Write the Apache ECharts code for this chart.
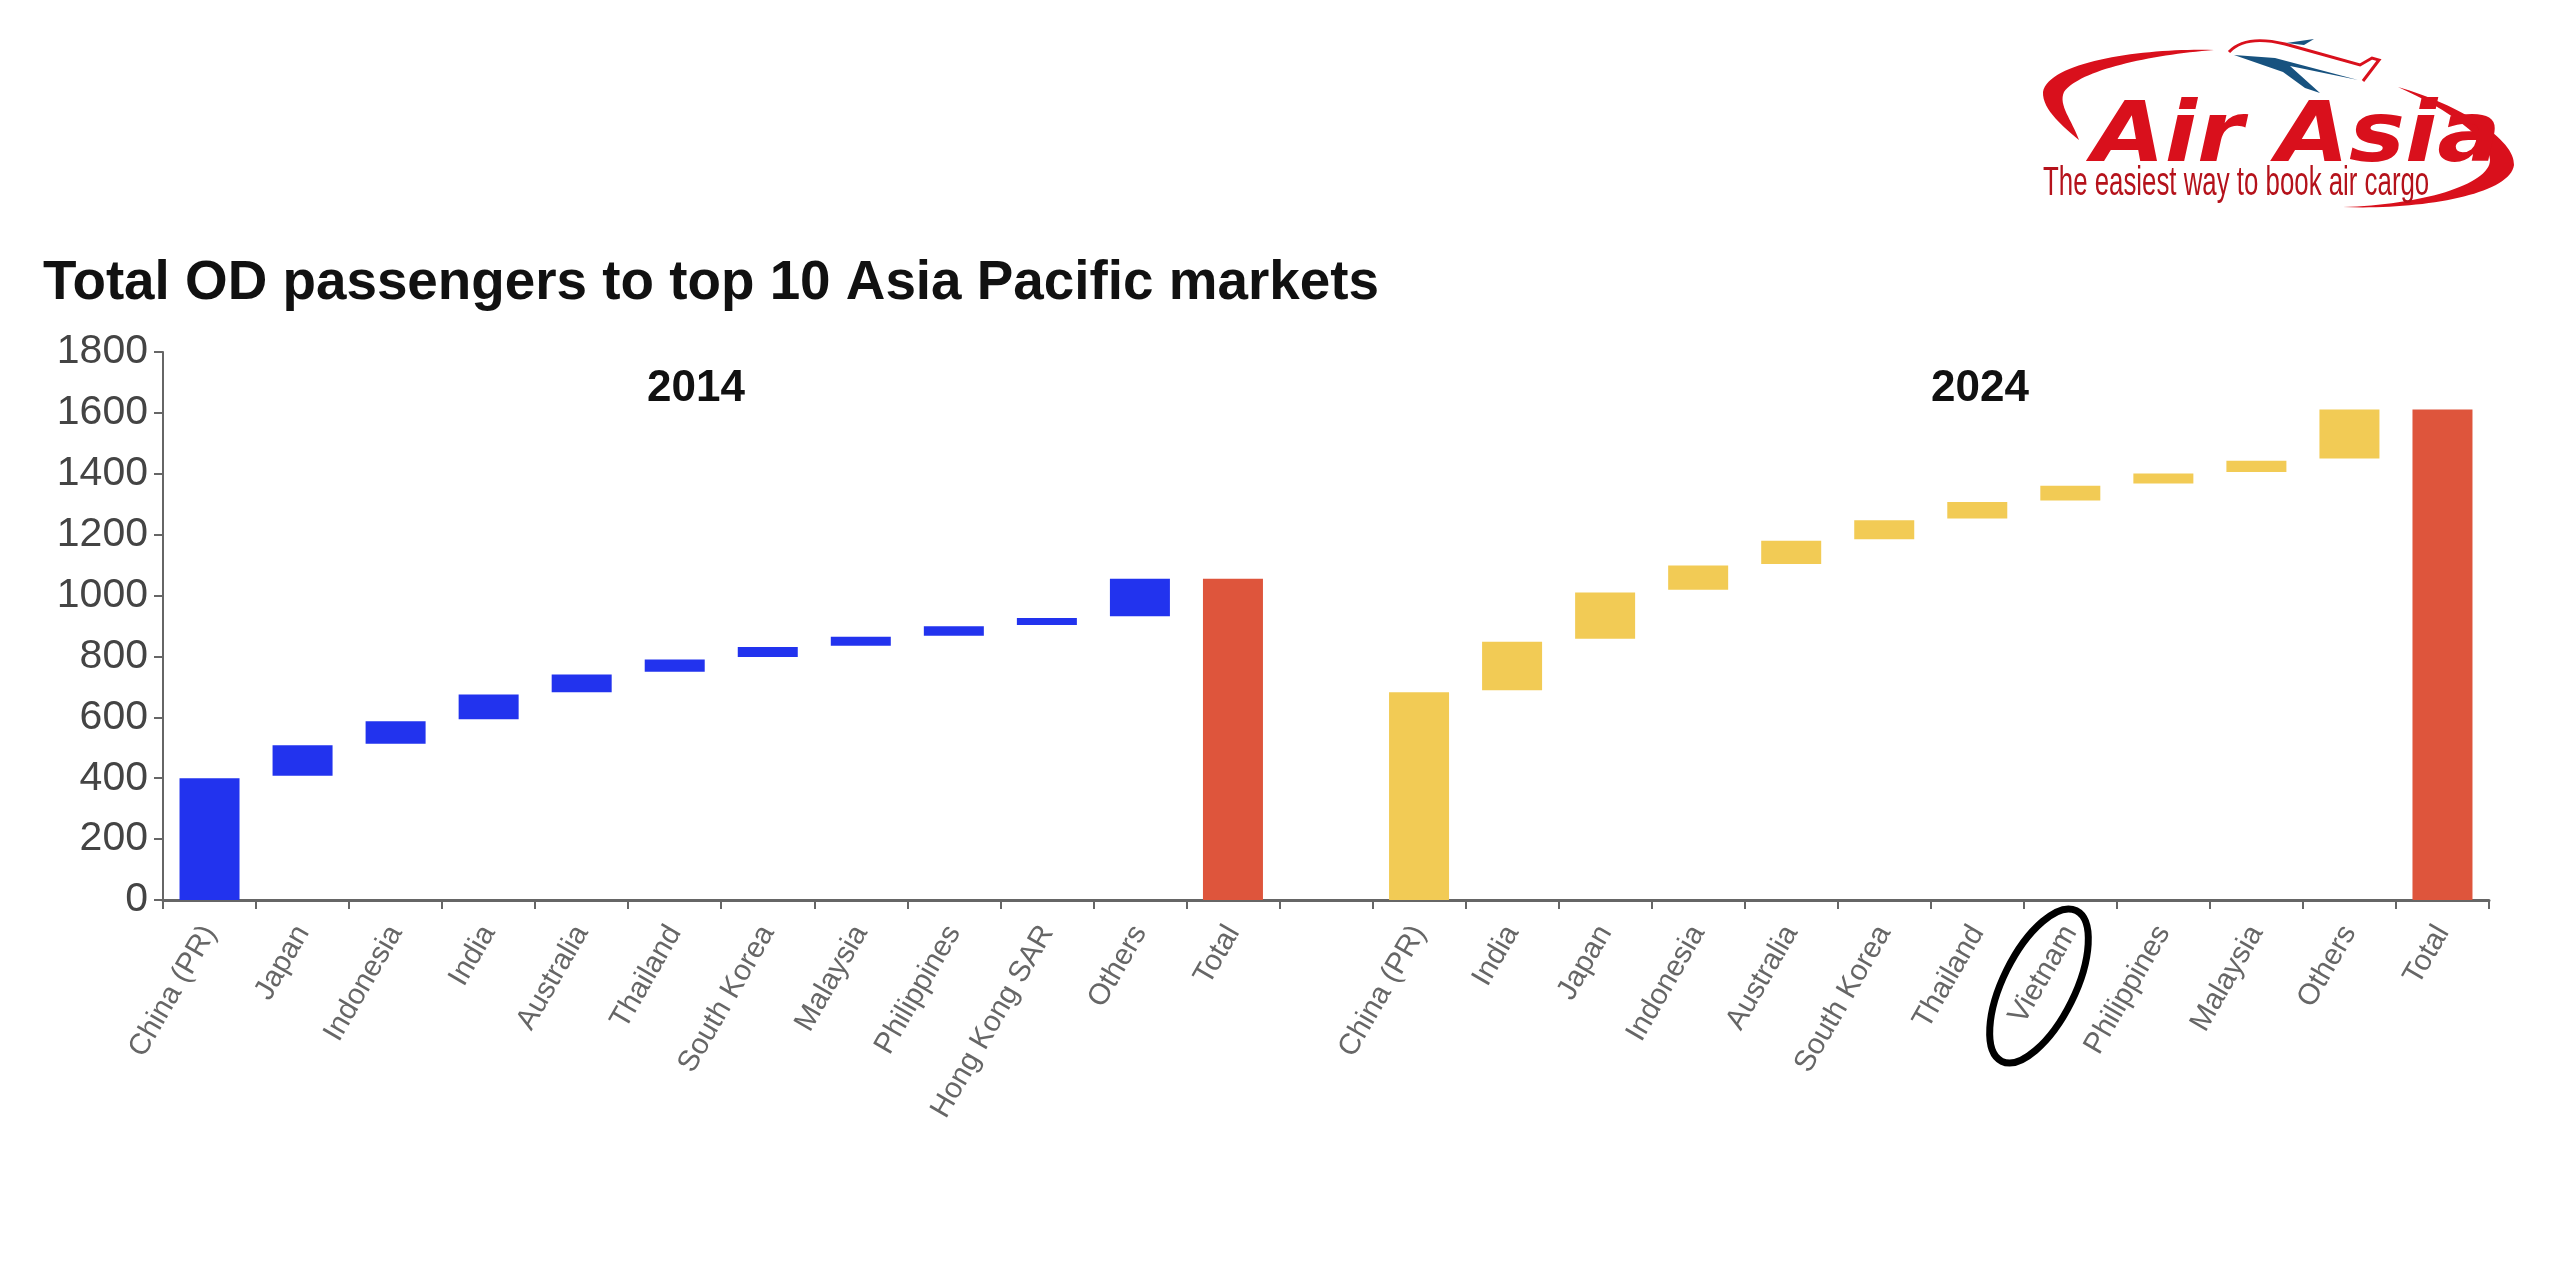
<!DOCTYPE html>
<html><head><meta charset="utf-8">
<style>html,body{margin:0;padding:0;background:#fff}#c{width:2560px;height:1280px}</style>
<script src="https://cdn.jsdelivr.net/npm/echarts@6/dist/echarts.min.js"></script>
</head><body><div id="c"></div>
<script>
const titleText = "Total OD passengers to top 10 Asia Pacific markets";
const categories = ["China (PR)","Japan","Indonesia","India","Australia","Thailand","South Korea","Malaysia","Philippines","Hong Kong SAR","Others","Total","",
  "China (PR)","India","Japan","Indonesia","Australia","South Korea","Thailand","Vietnam","Philippines","Malaysia","Others","Total"];
const lows2014  = [0,408,513,594,682,750,798,835,868,903,932];
const highs2014 = [400,508,587,675,741,790,831,865,899,926,1055];
const total2014 = 1055;
const lows2024  = [0,689,858,1019,1104,1185,1253,1312,1368,1406,1450];
const highs2024 = [682,848,1010,1099,1180,1247,1307,1361,1401,1443,1611];
const total2024 = 1611;
const yMax = 1800, yStep = 200;

const BLUE="#2233EE", YELLOW="#F2CB55", RED="#DE553C", LOGO="#D9101C", NAVY="#17527F";
const lows  = [...lows2014, 0, null, ...lows2024, 0];
const highs = [...highs2014, total2014, null, ...highs2024, total2024];
const colors = categories.map((c,i)=> (i===11||i===24)?RED : i<12?BLUE : YELLOW);
const delta = highs.map((h,i)=> h===null?null : {value:h-lows[i], itemStyle:{color:colors[i]}});

const logoPaths = {
  swooshLeft:'M2214 50 C2150 48 2050 60 2043 92 C2042 110 2065 128 2079 140 C2072 120 2058 105 2064 92 C2080 70 2150 55 2214 50 Z',
  swooshRight:'M2398 87 C2460 105 2516 140 2514 165 C2510 195 2420 210 2343 207 C2420 205 2490 185 2490 160 C2490 140 2450 110 2398 87 Z',
  fuselage:'M2229 52 C2240 40 2260 38 2285 44 L2360 65 L2372 58 L2379 60 L2363 81',
  wing:'M2234 55 L2275 58 L2358 80 L2290 66 L2320 93 L2305 88 L2283 72 Z',
  tail:'M2286 43 L2314 39 L2304 45 Z'
};
Object.keys(logoPaths).forEach(k=>echarts.graphic.registerShape(k, echarts.graphic.extendPath(logoPaths[k],{})));

const chart = echarts.init(document.getElementById('c'),null,{renderer:'canvas'});
const FONT='"Liberation Sans",Arial,sans-serif';
chart.setOption({
  animation:false,
  backgroundColor:'#fff',
  title:{text:titleText,left:38,top:251,textStyle:{fontFamily:FONT,fontWeight:'bold',fontSize:54.8,color:'#111'}},
  grid:{left:163,right:71,top:352,height:548,containLabel:false},
  xAxis:{type:'category',data:categories,
    axisLine:{lineStyle:{color:'#666',width:3}},
    axisTick:{show:true,length:9,lineStyle:{color:'#666',width:2},alignWithLabel:false},
    axisLabel:{interval:0,rotate:60,margin:28,fontFamily:FONT,fontSize:29.5,color:'#666'}},
  yAxis:{type:'value',min:0,max:yMax,interval:yStep,
    splitLine:{show:false},
    axisLine:{show:true,lineStyle:{color:'#666',width:2}},
    axisTick:{show:true,length:9,lineStyle:{color:'#666',width:2}},
    axisLabel:{margin:15,fontFamily:FONT,fontSize:41,color:'#444',formatter:v=>String(v)}},
  series:[
    {name:'base',type:'bar',stack:'w',data:lows,barWidth:60,itemStyle:{color:'transparent'},silent:true},
    {name:'value',type:'bar',stack:'w',data:delta,barWidth:60}
  ],
  graphic:[
    {type:'text',x:696,y:389,style:{text:'2014',fontFamily:FONT,fontWeight:'bold',fontSize:44,fill:'#111',align:'center',verticalAlign:'middle'}},
    {type:'text',x:1980,y:389,style:{text:'2024',fontFamily:FONT,fontWeight:'bold',fontSize:44,fill:'#111',align:'center',verticalAlign:'middle'}},
    {type:'ellipse',x:2039,y:986,rotation:-0.46,shape:{cx:0,cy:0,rx:36,ry:84},style:{fill:'none',stroke:'#000',lineWidth:7}},
    {type:'swooshLeft',style:{fill:LOGO}},
    {type:'swooshRight',style:{fill:LOGO}},
    {type:'fuselage',style:{fill:'none',stroke:LOGO,lineWidth:3}},
    {type:'wing',style:{fill:NAVY}},
    {type:'tail',style:{fill:NAVY}},
    {type:'text',x:2092,y:139,scaleX:1.12,style:{text:'Air Asia',fontFamily:'"DejaVu Sans"',fontStyle:'italic',fontWeight:'bold',fontSize:84,fill:LOGO,align:'left',verticalAlign:'middle'}},
    {type:'text',x:2043,y:184,scaleX:0.63,style:{text:'The easiest way to book air cargo',fontFamily:FONT,fontSize:41,fill:'#B5121B',align:'left',verticalAlign:'middle'}}
  ]
});
</script></body></html>
